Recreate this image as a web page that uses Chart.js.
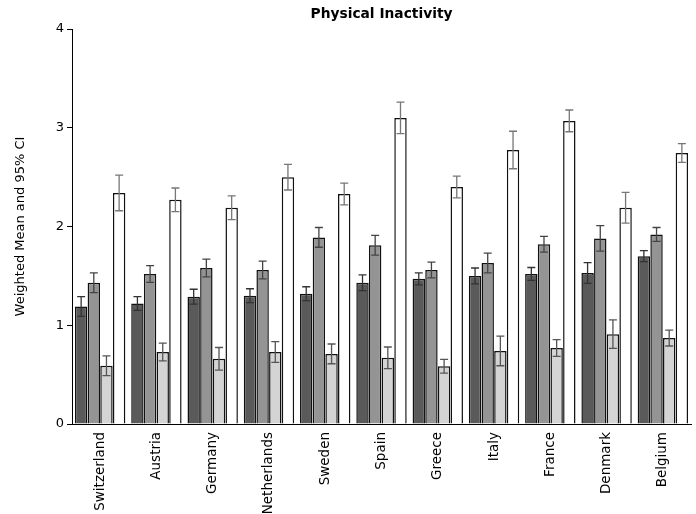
<!DOCTYPE html>
<html>
<head>
<meta charset="utf-8">
<script src="https://cdn.jsdelivr.net/npm/chart.js@4/dist/chart.umd.min.js"></script>
<style>
    html, body { margin: 0; padding: 0; background: #fff; }
    #wrap { width: 696px; height: 514px; }
</style>
</head>
<body>
<div id="wrap"><canvas id="myChart" width="696" height="514"></canvas></div>
<script>
const countries = ["Switzerland", "Austria", "Germany", "Netherlands", "Sweden", "Spain", "Greece", "Italy", "France", "Denmark", "Belgium"]
const yTicks = [0, 1, 2, 3, 4]

// weighted means, one array per bar colour
const meanDark = [1.19, 1.22, 1.29, 1.30, 1.32, 1.43, 1.47, 1.50, 1.52, 1.53, 1.70]
const meanMid = [1.43, 1.52, 1.58, 1.56, 1.89, 1.81, 1.56, 1.63, 1.82, 1.88, 1.92]
const meanLight = [0.59, 0.73, 0.66, 0.73, 0.71, 0.67, 0.585, 0.74, 0.77, 0.91, 0.87]
const meanWhite = [2.34, 2.27, 2.19, 2.50, 2.33, 3.10, 2.40, 2.775, 3.07, 2.19, 2.745]

// half width of the 95% CI
const ciDark = [0.10, 0.07, 0.075, 0.07, 0.07, 0.08, 0.06, 0.08, 0.065, 0.105, 0.055]
const ciMid = [0.10, 0.085, 0.09, 0.09, 0.10, 0.10, 0.08, 0.10, 0.08, 0.13, 0.07]
const ciLight = [0.10, 0.09, 0.115, 0.105, 0.10, 0.11, 0.07, 0.15, 0.085, 0.145, 0.08]
const ciWhite = [0.18, 0.12, 0.12, 0.13, 0.11, 0.16, 0.11, 0.19, 0.11, 0.155, 0.095]

const FONT = "'DejaVu Sans', Verdana, sans-serif"

function bars(label, data, ci, fill, whisker) {
    return {
        label: label,
        data: data,
        ci: ci,
        whisker: whisker,
        backgroundColor: fill,
        borderColor: "#111",
        borderWidth: 1.5,
        borderSkipped: "bottom",
        categoryPercentage: 0.9,
        barPercentage: 0.98,
    }
}

// draws the CI whiskers on top of every bar
const errorBars = {
    id: "errorBars",
    afterDatasetsDraw(chart) {
        const ctx = chart.ctx
        const y = chart.scales.y
        chart.data.datasets.forEach((ds, di) => {
            const meta = chart.getDatasetMeta(di)
            ctx.save()
            ctx.strokeStyle = ds.whisker
            ctx.lineWidth = 1.3
            meta.data.forEach((bar, i) => {
                const lo = y.getPixelForValue(ds.data[i] - ds.ci[i])
                const hi = y.getPixelForValue(ds.data[i] + ds.ci[i])
                const x = bar.x
                ctx.beginPath()
                ctx.moveTo(x, lo); ctx.lineTo(x, hi)
                ctx.moveTo(x - 4, lo); ctx.lineTo(x + 4, lo)
                ctx.moveTo(x - 4, hi); ctx.lineTo(x + 4, hi)
                ctx.stroke()
            })
            ctx.restore()
        })
    }
}

new Chart(document.getElementById("myChart"), {
    type: "bar",
    data: {
        labels: countries,
        datasets: [
            bars("1", meanDark, ciDark, "#5a5a5a", "#333"),
            bars("2", meanMid, ciMid, "#949494", "#444"),
            bars("3", meanLight, ciLight, "#d4d4d4", "#555"),
            bars("4", meanWhite, ciWhite, "#ffffff", "#777"),
        ]
    },
    plugins: [errorBars],
    options: {
        responsive: false,
        animation: false,
        layout: { padding: { left: 0, right: 5, top: 0, bottom: 0 } },
        plugins: {
            legend: { display: false },
            tooltip: { enabled: false },
            title: {
                display: true,
                text: "Physical Inactivity",
                color: "#000",
                fullSize: false,
                font: { family: FONT, size: 13.8, weight: "bold" },
                padding: { top: 6.5, bottom: 6 },
            },
        },
        scales: {
            x: {
                grid: { display: false },
                border: { display: true, color: "#000", width: 1 },
                ticks: {
                    color: "#000",
                    font: { family: FONT, size: 13.5 },
                    minRotation: 90,
                    maxRotation: 90,
                    autoSkip: false,
                    padding: 0,
                },
                afterFit(s) { s.height = 90 },
            },
            y: {
                min: 0,
                max: 4,
                afterBuildTicks(s) { s.ticks = yTicks.map(v => ({ value: v })) },
                grid: { drawOnChartArea: false, drawTicks: true, tickLength: 5, color: "#000" },
                border: { display: true, color: "#000", width: 1 },
                ticks: { color: "#000", font: { family: FONT, size: 13 }, padding: 3 },
                title: {
                    display: true,
                    text: "Weighted Mean and 95% CI",
                    color: "#000",
                    font: { family: FONT, size: 13 },
                    padding: { top: 13, bottom: 0 },
                },
                afterFit(s) { s.width = 72 },
            },
        },
    },
})
</script>
</body>
</html>
